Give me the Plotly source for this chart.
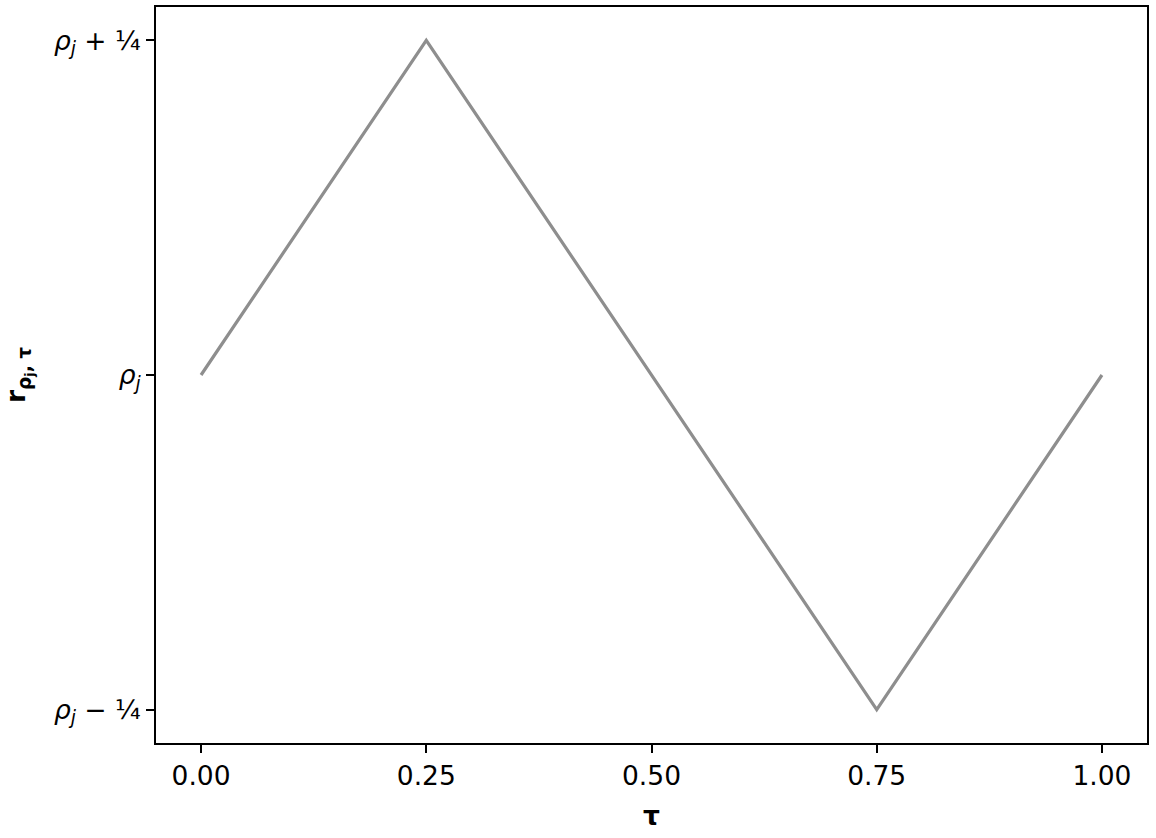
import plotly.graph_objects as go

tau = [0.0, 0.25, 0.75, 1.0]
r_offset = [0.0, 0.25, -0.25, 0.0]

x_ticks = [0.0, 0.25, 0.5, 0.75, 1.0]
x_ticklabels = ["0.00", "0.25", "0.50", "0.75", "1.00"]
y_ticks = [-0.25, 0.0, 0.25]
y_ticklabels = ["<i>ρ<sub>j</sub></i> − ¼", "<i>ρ<sub>j</sub></i>", "<i>ρ<sub>j</sub></i> + ¼"]

fig = go.Figure()
fig.add_trace(go.Scatter(x=tau, y=r_offset, mode="lines",
                         line=dict(color="#8e8e8e", width=3.2), showlegend=False))

font = dict(family="DejaVu Sans", size=26.5, color="black")
axis_common = dict(showline=True, linecolor="black", linewidth=2, mirror=True,
                   ticks="outside", ticklen=8, tickwidth=1.8, tickcolor="black",
                   showgrid=False, zeroline=False, tickfont=font)

fig.update_layout(
    width=1156, height=838,
    margin=dict(l=156, r=9, t=5, b=95),
    paper_bgcolor="white", plot_bgcolor="white",
    font=font,
    xaxis=dict(range=[-0.05, 1.05], tickvals=x_ticks, ticktext=x_ticklabels,
               title=dict(text="<b>τ</b>", font=dict(family="DejaVu Sans", size=26.5), standoff=17),
               **axis_common),
    yaxis=dict(range=[-0.275, 0.275], tickvals=y_ticks, ticktext=y_ticklabels,
               title=dict(text="<b>r<sub>ρ<sub>j</sub>, τ</sub></b>", font=dict(family="DejaVu Sans", size=26.5), standoff=22),
               **axis_common),
)

fig.write_html("out.html", config={"displayModeBar": False},
               post_script="document.body.style.margin='0px';document.body.style.padding='0px';")
